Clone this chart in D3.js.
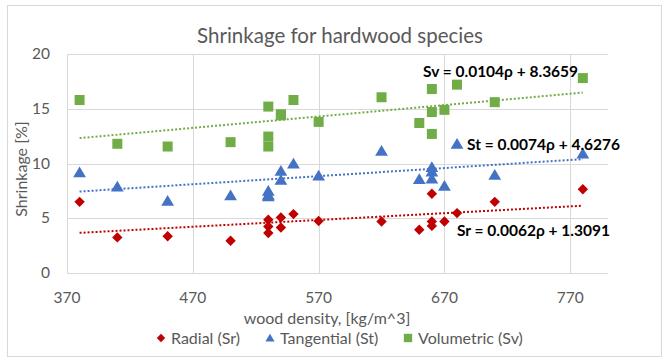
<!DOCTYPE html>
<html>
<head>
<meta charset="utf-8">
<script src="https://cdn.jsdelivr.net/npm/d3@7"></script>
<style>
  body { margin: 0; background: #fff; }
  svg text { font-family: Lato, "Open Sans", sans-serif; }
</style>
</head>
<body>
<svg id="chart" width="670" height="359"></svg>
<script>
// wood density of each species, kg/m^3
const density = [380, 410, 450, 500, 530, 530, 530, 540, 540, 550, 570, 620, 650, 660, 660, 660, 670, 680, 710, 780];
// shrinkage, %
const radial     = [6.5, 3.25, 3.35, 2.95, 4.86, 4.25, 3.65, 5.07, 4.16, 5.38, 4.75, 4.7, 3.95, 7.24, 4.7, 4.3, 4.7, 5.47, 6.5, 7.65];
const tangential = [9.2, 7.9, 6.6, 7.1, 7.5, 7.15, 7.0, 9.33, 8.5, 10.0, 8.9, 11.15, 8.58, 9.67, 9.27, 8.63, 7.97, 11.8, 8.97, 10.9];
const volumetric = [15.8, 11.8, 11.55, 11.95, 15.2, 12.46, 11.55, 14.5, 14.4, 15.8, 13.8, 16.05, 13.7, 16.8, 14.7, 12.7, 14.9, 17.2, 15.6, 17.8];

const seriesNames = ['Radial (Sr)', 'Tangential (St)', 'Volumetric (Sv)'];
const seriesColors = ['#c00000', '#4472c4', '#70ad47'];
// linear trendlines: slope, intercept
const slopes = [0.0062, 0.0074, 0.0104];
const intercepts = [1.3091, 4.6276, 8.3659];
const eqLabels = ['Sr = 0.0062\u03c1 + 1.3091', 'St = 0.0074\u03c1 + 4.6276', 'Sv = 0.0104\u03c1 + 8.3659'];

const xTicks = [370, 470, 570, 670, 770];
const yTicks = [0, 5, 10, 15, 20];

const svg = d3.select('#chart');
const x = d3.scaleLinear().domain([370, 800]).range([67, 608]);
const y = d3.scaleLinear().domain([0, 20]).range([273, 54]);

// excel-like marker shapes; diamond is a square turned 45 degrees
const markerPath = (i, s) => {
    if(i === 0) return `M0,${-s} L${s},0 L0,${s} L${-s},0 Z`;
    if(i === 1) return `M0,${-s} L${s * 1.1},${s * 0.85} L${-s * 1.1},${s * 0.85} Z`;
    return `M${-s},${-s} H${s} V${s} H${-s} Z`;
};
const markerSize = [5.2, 5.8, 5];

// outer frame
svg.append('rect')
    .attr('x', 7.5).attr('y', 5.5).attr('width', 654).attr('height', 351)
    .attr('fill', '#fff').attr('stroke', '#d9d9d9');

svg.append('text')
    .attr('x', 340).attr('y', 43)
    .attr('text-anchor', 'middle')
    .attr('font-size', 20.5).attr('fill', '#595959')
    .text('Shrinkage for hardwood species');

// grid
svg.append('g').selectAll('line').data(yTicks).join('line')
    .attr('x1', x(370)).attr('x2', x(800))
    .attr('y1', d => Math.round(y(d)) + 0.5).attr('y2', d => Math.round(y(d)) + 0.5)
    .attr('stroke', '#d9d9d9');
svg.append('g').selectAll('line').data(xTicks).join('line')
    .attr('x1', d => Math.round(x(d)) + 0.5).attr('x2', d => Math.round(x(d)) + 0.5)
    .attr('y1', y(0)).attr('y2', y(20))
    .attr('stroke', '#d9d9d9');

// tick labels
svg.append('g').selectAll('text').data(yTicks).join('text')
    .attr('x', 50).attr('y', d => y(d) + 5)
    .attr('text-anchor', 'end')
    .attr('font-size', 15.5).attr('fill', '#595959')
    .text(d => d);
svg.append('g').selectAll('text').data(xTicks).join('text')
    .attr('x', d => x(d)).attr('y', 303)
    .attr('text-anchor', 'middle')
    .attr('font-size', 15.5).attr('fill', '#595959')
    .text(d => d);

// axis titles
svg.append('text')
    .attr('transform', 'translate(27,169) rotate(-90)')
    .attr('text-anchor', 'middle')
    .attr('font-size', 16).attr('fill', '#595959')
    .text('Shrinkage [%]');
svg.append('text')
    .attr('x', 327).attr('y', 324)
    .attr('text-anchor', 'middle')
    .attr('font-size', 16).attr('fill', '#595959')
    .text('wood density, [kg/m^3]');

// trendlines
const line = d3.line().x(d => x(d[0])).y(d => y(d[1]));
slopes.forEach((m, i) => {
    svg.append('path')
	.datum([380, 780].map(r => [r, m * r + intercepts[i]]))
	.attr('d', line)
	.attr('fill', 'none')
	.attr('stroke', seriesColors[i])
	.attr('stroke-width', 2)
	.attr('stroke-dasharray', '2,2');
});

// markers
const seriesValues = [radial, tangential, volumetric];
seriesValues.forEach((vals, i) => {
    svg.append('g').selectAll('path').data(vals).join('path')
	.attr('transform', (v, j) => `translate(${x(density[j])},${y(v)})`)
	.attr('d', markerPath(i, markerSize[i]))
	.attr('fill', seriesColors[i]);
});

// equations
const eqPos = [[457, 236], [467, 150], [423, 77]];
eqLabels.forEach((t, i) => {
    svg.append('text')
	.attr('x', eqPos[i][0]).attr('y', eqPos[i][1])
	.attr('font-size', 15.5).attr('font-weight', 'bold').attr('fill', '#000')
	.text(t);
});

// legend
const legX = [161, 270, 408];
seriesNames.forEach((n, i) => {
    const g = svg.append('g').attr('transform', `translate(${legX[i]},338)`);
    g.append('path')
	.attr('d', markerPath(i, 4.2))
	.attr('fill', seriesColors[i]);
    g.append('text')
	.attr('x', 10).attr('y', 5.5)
	.attr('font-size', 16).attr('fill', '#595959')
	.text(n);
});
</script>
</body>
</html>
